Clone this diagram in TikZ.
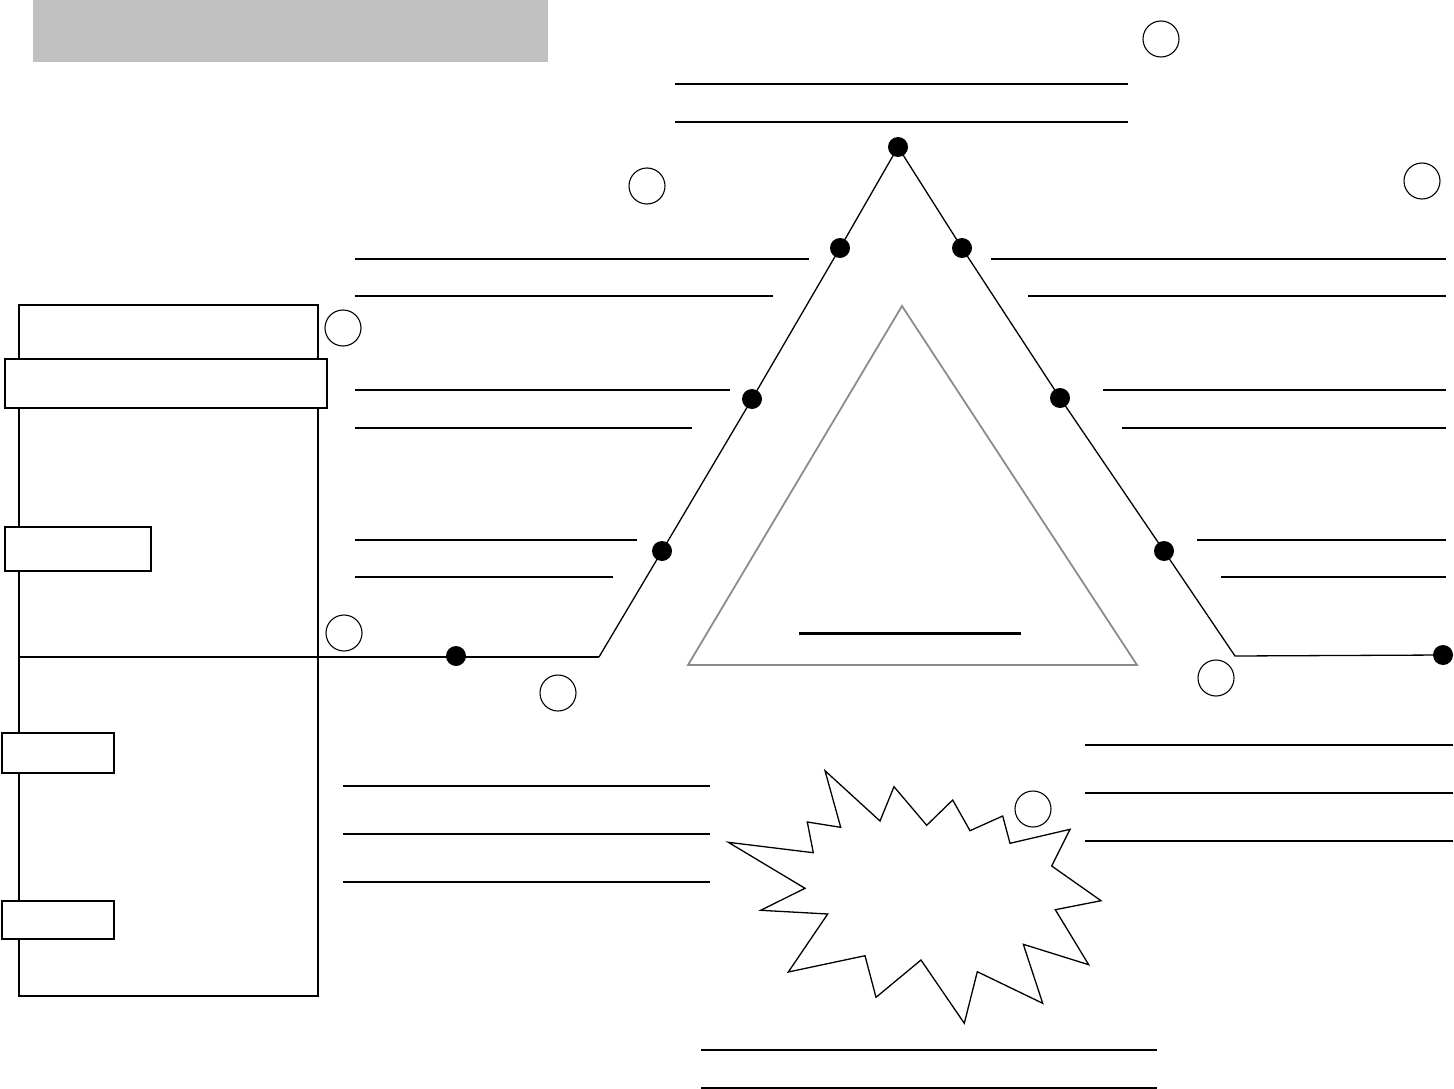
\documentclass[tikz,border=0pt]{standalone}
\begin{document}
\begin{tikzpicture}[x=1pt,y=-1pt,
  thinln/.style={line width=1.2pt},
  thickln/.style={line width=2pt},
  ring/.style={circle,draw,line width=1.1pt,minimum size=36pt,inner sep=0pt},
  dot/.style={circle,fill=black,minimum size=20pt,inner sep=0pt},
  tab/.style={draw,fill=white,line width=1.5pt,inner sep=0pt,anchor=north west},
  plotln/.style={line width=1.3pt}]
\useasboundingbox (0,0) rectangle (1454,1089);
% header bar
\fill[fill={rgb,255:red,192;green,192;blue,192}] (33,0) rectangle (548,62);
% left panel
\draw[line width=1.4pt] (19,305) rectangle (318,996);
\node[tab,minimum width=322pt,minimum height=49pt] (tabA) at (4,358) {};
\node[tab,minimum width=146pt,minimum height=44pt] (tabB) at (4,526) {};
\node[tab,minimum width=112pt,minimum height=40pt] (tabC) at (1,732) {};
\node[tab,minimum width=112pt,minimum height=38pt] (tabD) at (1,900) {};
% plot line
\coordinate (start) at (19,657);
\coordinate (bendL) at (599,657);
\coordinate (bendR) at (1235,656);
\node[dot] (d0) at (456,656) {};
\node[dot] (d1) at (662,551) {};
\node[dot] (d2) at (752,399) {};
\node[dot] (d3) at (840,248) {};
\node[dot] (d4) at (898,147) {};
\node[dot] (d5) at (962,248) {};
\node[dot] (d6) at (1060,398) {};
\node[dot] (d7) at (1164,551) {};
\node[dot] (d8) at (1443,655) {};
\draw[line width=2pt] (start) -- (bendL);
\draw[plotln] (bendL) -- (d1.center) -- (d2.center) -- (d3.center) -- (d4.center)
  -- (d5.center) -- (d6.center) -- (d7.center) -- (bendR) -- (d8.center);
% inner triangle
\coordinate (ta) at (902,306);
\coordinate (tl) at (688,665);
\coordinate (tr) at (1137,665);
\draw[line width=1.8pt,color={rgb,255:red,140;green,140;blue,140},line join=miter] (ta) -- (tl) -- (tr) -- cycle;
\draw[line width=3pt] (799,633) -- (1021,633);
% circles
\node[ring] (c1) at (1161,39) {};
\node[ring] (c2) at (647,186) {};
\node[ring] (c3) at (1422,181) {};
\node[ring] (c4) at (343,328) {};
\node[ring] (c5) at (344,633) {};
\node[ring] (c6) at (558,693) {};
\node[ring] (c7) at (1216,678) {};
\node[ring] (c8) at (1033,809) {};
% writing lines
\draw[thickln] (675,84) -- (1128,84);
\draw[thickln] (675,122) -- (1128,122);
\draw[thinln] (355,259) -- (809,259);
\draw[thinln] (355,296) -- (773,296);
\draw[thinln] (991,259) -- (1446,259);
\draw[thinln] (1028,296) -- (1446,296);
\draw[thinln] (355,390) -- (730,390);
\draw[thickln] (355,428) -- (692,428);
\draw[thinln] (1103,390) -- (1446,390);
\draw[thickln] (1122,428) -- (1446,428);
\draw[thickln] (355,540) -- (637,540);
\draw[thinln] (355,577) -- (613,577);
\draw[thickln] (1197,540) -- (1446,540);
\draw[thinln] (1221,577) -- (1446,577);
\draw[thickln] (343,786) -- (710,786);
\draw[thickln] (343,834) -- (710,834);
\draw[thickln] (343,882) -- (710,882);
\draw[thinln] (1085,745) -- (1453,745);
\draw[thinln] (1085,793) -- (1453,793);
\draw[thinln] (1085,841) -- (1453,841);
\draw[thickln] (701,1050) -- (1157,1050);
\draw[thinln] (701,1088) -- (1157,1088);
% starburst
\draw[line width=1.3pt,line join=miter] (728.3,842.3) -- (805,888.3) -- (760.7,910.3) -- (827.7,914)
 -- (788.3,972) -- (865,955.7) -- (876,997.3) -- (921,960) -- (964.3,1023.3)
 -- (977.3,971.7) -- (1042.7,1003.3) -- (1023.3,944.3) -- (1088.7,964.7)
 -- (1055.3,909.7) -- (1101,900.7) -- (1051.7,866) -- (1070,829.3)
 -- (1010,843.3) -- (1002.7,816) -- (970,830.7) -- (952.7,800) -- (926.7,825.3)
 -- (894,786.7) -- (880,821) -- (825,770.7) -- (840.7,827.3) -- (807.3,822)
 -- (813.3,852.7) -- cycle;
\end{tikzpicture}
\end{document}
